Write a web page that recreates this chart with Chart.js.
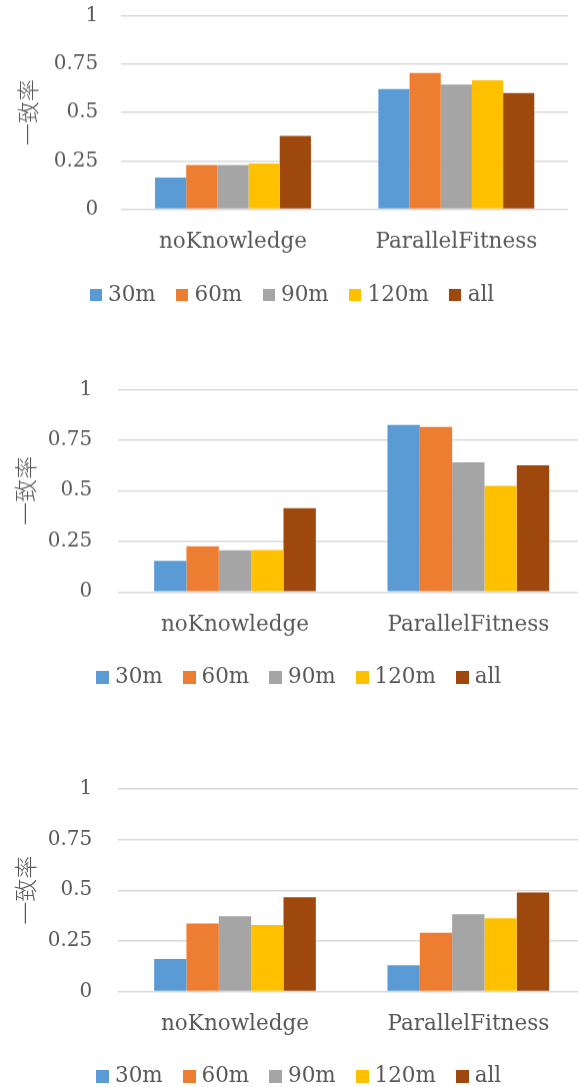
<!DOCTYPE html>
<html>
<head>
<meta charset="utf-8">
<script src="https://cdn.jsdelivr.net/npm/chart.js@4.4.1/dist/chart.umd.min.js"></script>
<style>
  html, body { margin: 0; padding: 0; background: #ffffff; width: 578px; height: 1087px; overflow: hidden; }
  canvas { position: absolute; left: 0; }
</style>
</head>
<body>
<canvas id="c1"></canvas>
<canvas id="c2"></canvas>
<canvas id="c3"></canvas>
<script>
// Shared labels
const categories = ['noKnowledge', 'ParallelFitness'];
const seriesNames = ['30m', '60m', '90m', '120m', 'all'];
const yTickLabels = ['0', '0.25', '0.5', '0.75', '1'];
const yTitle = '一致率';

// Panel 1
const p1_30m  = [0.164, 0.621];
const p1_60m  = [0.228, 0.704];
const p1_90m  = [0.228, 0.645];
const p1_120m = [0.236, 0.666];
const p1_all  = [0.378, 0.600];

// Panel 2
const p2_30m  = [0.153, 0.824];
const p2_60m  = [0.225, 0.814];
const p2_90m  = [0.206, 0.640];
const p2_120m = [0.207, 0.524];
const p2_all  = [0.413, 0.625];

// Panel 3
const p3_30m  = [0.160, 0.130];
const p3_60m  = [0.336, 0.290];
const p3_90m  = [0.371, 0.381];
const p3_120m = [0.328, 0.362];
const p3_all  = [0.466, 0.489];

const seriesColors = ['#5B9BD5', '#ED7D31', '#A5A5A5', '#FFC000', '#9E480E'];
const textColor = '#595959';
const gridColor = '#D9D9D9';
const latinFont = 'DejaVu Serif';
const cjkFont = 'Noto Sans CJK JP';

function swatch(color, size) {
  const c = document.createElement('canvas');
  c.width = size; c.height = size;
  const g = c.getContext('2d');
  g.fillStyle = color;
  g.fillRect(0, 0, size, size);
  return c;
}

function buildPanel(id, series, geo) {
  const canvas = document.getElementById(id);
  canvas.width = geo.width;
  canvas.height = geo.height;
  canvas.style.width = geo.width + 'px';
  canvas.style.height = geo.height + 'px';
  canvas.style.top = geo.top + 'px';

  const swatches = seriesColors.map(c => swatch(c, geo.swatch));

  // nudges the legend row sideways without touching the plot area
  const legendShift = {
    id: 'legendShift',
    afterLayout(chart) {
      if (chart.legend) {
        chart.legend.left += geo.legendDx;
        chart.legend.right += geo.legendDx;
      }
    }
  };

  return new Chart(canvas, {
    type: 'bar',
    plugins: [legendShift],
    data: {
      labels: categories,
      datasets: seriesNames.map((name, i) => ({
        label: name,
        data: series[i],
        backgroundColor: seriesColors[i],
        borderWidth: 0,
        categoryPercentage: geo.catPct,
        barPercentage: 1.0
      }))
    },
    options: {
      responsive: false,
      animation: false,
      devicePixelRatio: 1,
      layout: { padding: { top: geo.padTop, right: geo.padRight, left: 0, bottom: 0 } },
      plugins: {
        tooltip: { enabled: false },
        legend: {
          position: 'bottom',
          labels: {
            usePointStyle: true,
            boxWidth: 3,
            padding: geo.legendPad,
            color: textColor,
            font: { family: latinFont, size: geo.labelFont },
            generateLabels(chart) {
              const items = Chart.defaults.plugins.legend.labels.generateLabels(chart);
              items.forEach((it, i) => { it.pointStyle = swatches[i]; });
              return items;
            }
          }
        }
      },
      scales: {
        x: {
          grid: { display: false, drawTicks: false },
          border: { display: false },
          ticks: { padding: geo.xPad, color: textColor, font: { family: latinFont, size: geo.labelFont } },
          afterFit(scale) { scale.height = geo.xAxisH; }
        },
        y: {
          min: 0,
          max: 1,
          border: { display: false },
          grid: { color: gridColor, lineWidth: 1.5, drawTicks: false },
          ticks: {
            stepSize: 0.25,
            padding: geo.tickPad,
            color: textColor,
            font: { family: latinFont, size: geo.tickFont },
            callback: (v) => yTickLabels[Math.round(v / 0.25)]
          },
          title: {
            display: true,
            text: yTitle,
            color: textColor,
            font: { family: cjkFont, size: geo.titleSize, weight: 300 },
            padding: { top: geo.titlePad, bottom: 0 }
          },
          afterFit(scale) {
            scale.width = geo.axisW;
            // only half a label is needed above the top tick
            scale.paddingTop = 12;
            scale.paddingBottom = 12;
          }
        }
      }
    }
  });
}

buildPanel('c1', [p1_30m, p1_60m, p1_90m, p1_120m, p1_all], {
  top: 0, width: 578, height: 315.5, padTop: 15.7, padRight: 10,
  axisW: 121.3, tickPad: 23, xAxisH: 50, xPad: 20, tickFont: 20, labelFont: 21.5,
  legendPad: 25, legendDx: 10.25, swatch: 12, titleSize: 22, titlePad: 14, catPct: 0.698
});

buildPanel('c2', [p2_30m, p2_60m, p2_90m, p2_120m, p2_all], {
  top: 372, width: 596, height: 325.75, padTop: 17.3, padRight: 11,
  axisW: 118.3, tickPad: 26, xAxisH: 49.25, xPad: 20.1, tickFont: 20, labelFont: 21.5,
  legendPad: 25, legendDx: 8.75, swatch: 13, titleSize: 23, titlePad: 11, catPct: 0.693
});

buildPanel('c3', [p3_30m, p3_60m, p3_90m, p3_120m, p3_all], {
  top: 772, width: 596, height: 325, padTop: 17, padRight: 11,
  axisW: 118.3, tickPad: 26, xAxisH: 49, xPad: 19.8, tickFont: 20, labelFont: 21.5,
  legendPad: 25, legendDx: 8.75, swatch: 13, titleSize: 23, titlePad: 11, catPct: 0.693
});
</script>
</body>
</html>
